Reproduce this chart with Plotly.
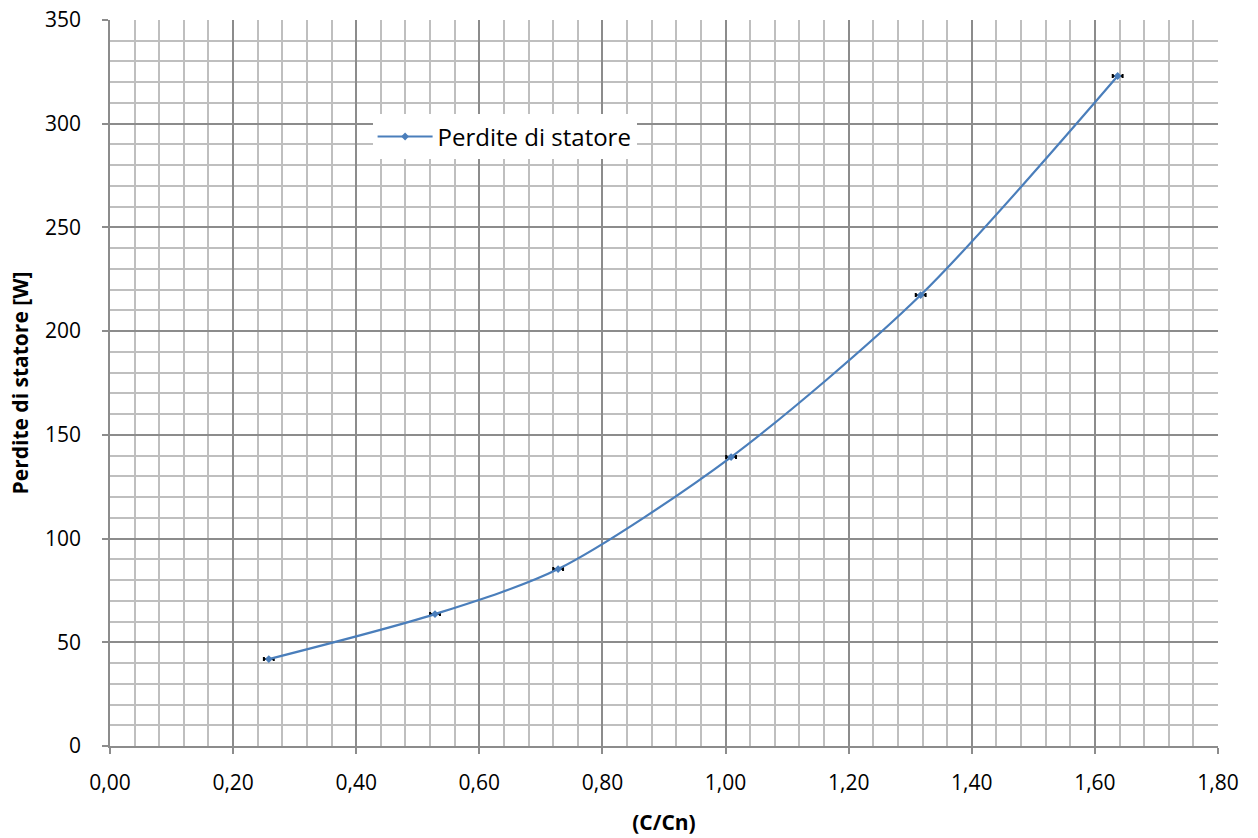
import plotly.graph_objects as go

x_vals = [0.258, 0.528, 0.728, 1.009, 1.317, 1.637]
y_vals = [41.9, 63.6, 85.3, 139.3, 217.4, 323.0]
x_err = [0.008, 0.008, 0.008, 0.008, 0.008, 0.008]
series_name = "Perdite di statore"

fig = go.Figure()
fig.add_trace(go.Scatter(
    x=x_vals, y=y_vals, mode="lines+markers", name=series_name,
    line=dict(color="#4a7ebb", width=2.2, shape="spline", smoothing=0.8),
    marker=dict(symbol="diamond", size=6, color="#4a7ebb"),
    error_x=dict(type="data", array=x_err, visible=True, color="black", thickness=2, width=2),
))

font = "Open Sans, Liberation Sans, sans-serif"
fig.update_layout(
    width=1258, height=838,
    margin=dict(l=110, r=40, t=20, b=92, autoexpand=False),
    paper_bgcolor="white", plot_bgcolor="white",
    separators=",.",
    font=dict(family=font, size=21, color="black"),
    showlegend=True,
    legend=dict(x=0.237, y=0.839, xanchor="left", yanchor="middle", bgcolor="white",
                font=dict(size=24), borderwidth=0, itemwidth=55),
    xaxis=dict(range=[0, 1.8], dtick=0.2, tickformat=".2f", showgrid=True,
               gridcolor="#8c8c8c", gridwidth=1.5, automargin=False,
               minor=dict(dtick=0.04, showgrid=True, gridcolor="#bfbfbf", gridwidth=1.5),
               showline=True, linecolor="#8c8c8c", linewidth=1.5,
               ticks="outside", ticklen=6, tickcolor="#8c8c8c", tickwidth=1.5,
               ticklabelstandoff=11, ticklabeloverflow="allow", zeroline=False,
               title=dict(text="<b>(C/Cn)</b>", font=dict(size=21), standoff=20)),
    yaxis=dict(range=[0, 350], dtick=50, showgrid=True,
               gridcolor="#8c8c8c", gridwidth=1.5, automargin=False,
               minor=dict(dtick=10, showgrid=True, gridcolor="#bfbfbf", gridwidth=1.5),
               showline=True, linecolor="#8c8c8c", linewidth=1.5,
               ticks="outside", ticklen=6, tickcolor="#8c8c8c", tickwidth=1.5,
               ticklabelstandoff=17, ticklabeloverflow="allow", zeroline=False,
               title=dict(text="<b>Perdite di statore [W]</b>", font=dict(size=21), standoff=11)),
)
fig.write_html("out.html", config={"displayModeBar": False},
               post_script="document.body.style.margin='0';document.body.style.overflow='hidden';")
